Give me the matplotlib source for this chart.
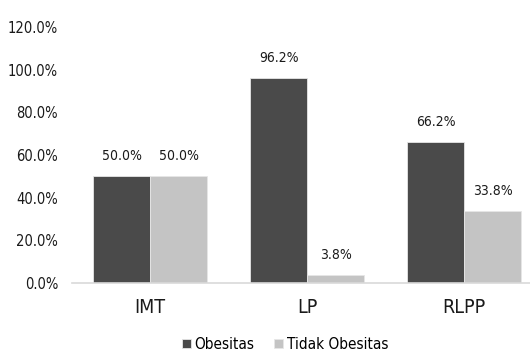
import matplotlib
import numpy as np

matplotlib.use("Agg")
import matplotlib.pyplot as plt

categories = ["IMT", "LP", "RLPP"]
obesitas = [50.0, 96.2, 66.2]
tidak_obesitas = [50.0, 3.8, 33.8]
y_ticks = [0, 20, 40, 60, 80, 100, 120]

plt.rcParams["font.family"] = ["DejaVu Sans"]
plt.rcParams["font.stretch"] = "condensed"

fig = plt.figure(figsize=(5.3, 3.54), dpi=100)
ax = fig.add_axes([72 / 530, 71 / 354, 458 / 530, 256 / 354])

x = np.arange(len(categories))
w = 0.363
b1 = ax.bar(x - w / 2, obesitas, w, color="#4a4a4a", edgecolor="#e6e6e6", linewidth=0.6,
            label="Obesitas")
b2 = ax.bar(x + w / 2, tidak_obesitas, w, color="#c4c4c4", edgecolor="#e6e6e6", linewidth=0.6,
            label="Tidak Obesitas")

# value labels above each bar
for bars in (b1, b2):
    for rect in bars:
        h = rect.get_height()
        ax.annotate(f"{h:.1f}%", (rect.get_x() + rect.get_width() / 2, h),
                    xytext=(0, 9.5), textcoords="offset points",
                    ha="center", va="bottom", fontsize=10, color="#1a1a1a")

ax.set_xlim(-78 / 157, 380 / 157)
ax.set_ylim(0, 120)
ax.set_yticks(y_ticks)
ax.set_yticklabels([f"{t:.1f}%" for t in y_ticks], fontsize=10.5, color="#1a1a1a")
ax.set_xticks(x)
ax.set_xticklabels(categories, fontsize=14, color="#1a1a1a")
ax.tick_params(axis="y", length=0, pad=10)
ax.tick_params(axis="x", length=0, pad=11)

for side in ("top", "right", "left"):
    ax.spines[side].set_visible(False)
ax.spines["bottom"].set_color("#d9d9d9")
ax.spines["bottom"].set_linewidth(1.2)

fig.legend(handles=[b1, b2], loc="center", bbox_to_anchor=(0.538, 0.027), ncol=2,
           frameon=False, fontsize=11, handlelength=0.55, handleheight=0.55,
           handletextpad=0.25, columnspacing=1.3)

fig.savefig("out.png", dpi=100)
